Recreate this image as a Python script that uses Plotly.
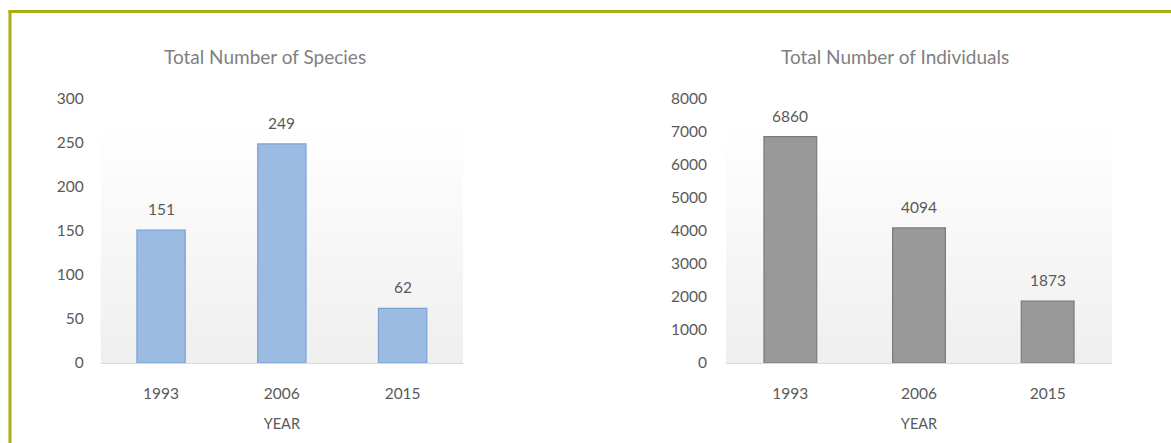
import plotly.graph_objects as go

years = ["1993", "2006", "2015"]
species = [151, 249, 62]
individuals = [6860, 4094, 1873]
species_ticks = [0, 50, 100, 150, 200, 250, 300]
indiv_ticks = [0, 1000, 2000, 3000, 4000, 5000, 6000, 7000, 8000]

W, H = 1171, 443
FONT = "Lato"
TXT = "#595959"

fig = go.Figure()
fig.add_trace(go.Bar(x=years, y=species, xaxis="x", yaxis="y", width=0.4,
                     marker=dict(color="#9bbbe2", line=dict(color="#79a2d3", width=1.2)),
                     hoverinfo="skip", showlegend=False))
fig.add_trace(go.Bar(x=years, y=individuals, xaxis="x2", yaxis="y2", width=0.41,
                     marker=dict(color="#999999", line=dict(color="#7a7a7a", width=1.2)),
                     hoverinfo="skip", showlegend=False))

def px_x(p):
    return p / W

def px_y(p):
    return 1 - p / H

dom1 = [px_x(100.7), px_x(463)]
dom2 = [px_x(726), px_x(1112)]
ydom = [px_y(363), px_y(99)]

axis_common = dict(showgrid=False, zeroline=False, automargin=False,
                   tickfont=dict(family=FONT, size=15.5, color=TXT))
xcommon = dict(type="category", range=[-0.5, len(years) - 0.5], showline=True,
               linecolor="#d9d9d9", linewidth=1, ticks="", ticklabelstandoff=16,
               title=dict(text="YEAR", font=dict(family=FONT, size=14.5, color=TXT), standoff=18))
fig.update_layout(
    width=W, height=H, margin=dict(l=0, r=0, t=0, b=0, autoexpand=False),
    paper_bgcolor="white", plot_bgcolor="rgba(0,0,0,0)",
    font=dict(family=FONT, color=TXT),
    xaxis=dict(domain=dom1, anchor="y", **xcommon, **axis_common),
    yaxis=dict(domain=ydom, anchor="x", range=[0, 300], tickvals=species_ticks,
               ticklabelstandoff=16, showline=False, ticks="", **axis_common),
    xaxis2=dict(domain=dom2, anchor="y2", **xcommon, **axis_common),
    yaxis2=dict(domain=ydom, anchor="x2", range=[0, 8000], tickvals=indiv_ticks,
                ticklabelstandoff=18, showline=False, ticks="", **axis_common),
)

# subtle gradient plot backgrounds
shapes = []
n = 16
top_px, bot_px = 130, 363
for xr in ("x domain", "x2 domain"):
    for i in range(n):
        y0 = px_y(top_px + (bot_px - top_px) * i / n)
        y1 = px_y(top_px + (bot_px - top_px) * (i + 1) / n)
        v = int(255 - (255 - 239) * (i + 0.5) / n)
        shapes.append(dict(type="rect", xref=xr, yref="paper", x0=0, x1=1, y0=y1, y1=y0,
                           fillcolor=f"rgb({v},{v},{v})", line=dict(width=0), layer="below"))
# olive frame (top and left edges)
shapes.append(dict(type="line", xref="paper", yref="paper", x0=px_x(8.5), x1=1.01,
                   y0=px_y(11.5), y1=px_y(11.5), line=dict(color="#a8ae14", width=3)))
shapes.append(dict(type="line", xref="paper", yref="paper", x0=px_x(10), x1=px_x(10),
                   y0=px_y(10), y1=-0.01, line=dict(color="#a8ae14", width=3)))
fig.update_layout(shapes=shapes)

ann = []
for i, v in enumerate(species):
    ann.append(dict(x=i, y=v, xref="x", yref="y", text=str(v), showarrow=False,
                    yshift=21, font=dict(family=FONT, size=15.5, color=TXT)))
for i, v in enumerate(individuals):
    ann.append(dict(x=i, y=v, xref="x2", yref="y2", text=str(v), showarrow=False,
                    yshift=21, font=dict(family=FONT, size=15.5, color=TXT)))
ann.append(dict(x=px_x(265), y=px_y(57), xref="paper", yref="paper", text="Total Number of Species",
                xanchor="center", yanchor="middle", showarrow=False,
                font=dict(family=FONT, size=19, color="#808080")))
ann.append(dict(x=px_x(895), y=px_y(57), xref="paper", yref="paper", text="Total Number of Individuals",
                xanchor="center", yanchor="middle", showarrow=False,
                font=dict(family=FONT, size=19, color="#808080")))
fig.update_layout(annotations=ann)

fig.write_html("out.html", config={"displayModeBar": False},
               post_script="document.body.style.margin='0';")
